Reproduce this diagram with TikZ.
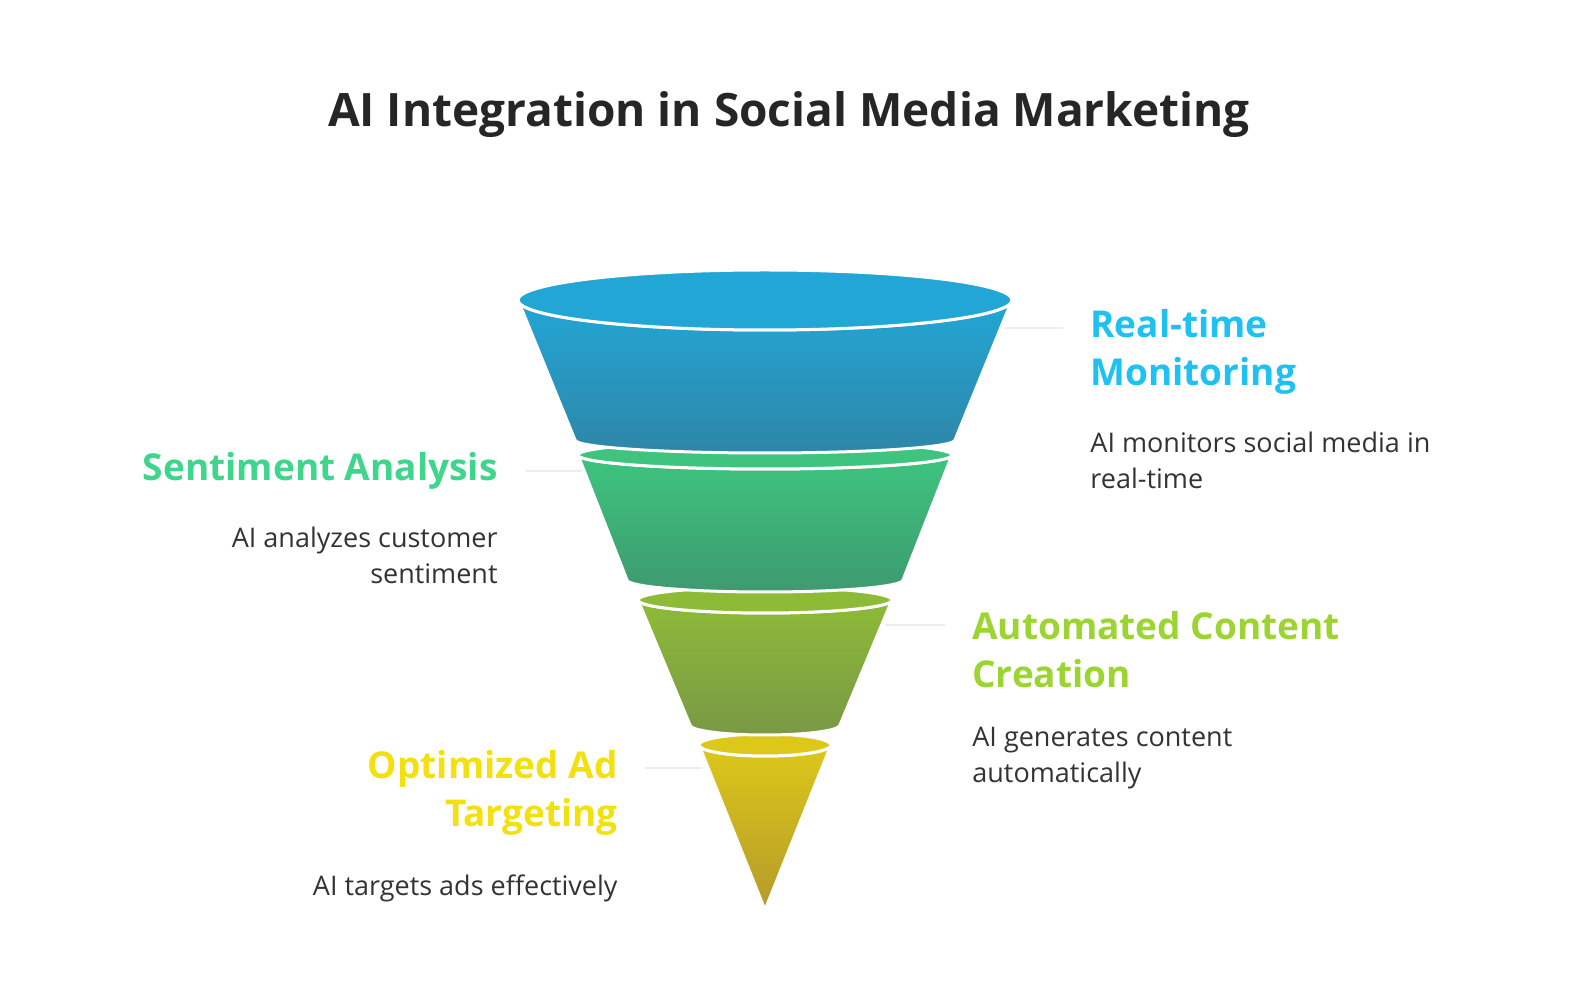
\documentclass[tikz,border=0pt]{standalone}
\usepackage{fontspec}
\setmainfont{Open Sans}
\begin{document}
\begin{tikzpicture}[x=0.5pt,y=0.5pt,
  band/.style={draw=white,line width=1.5pt},
  lidstyle/.style={draw=white,line width=1.5pt},
  conn/.style={draw=black!7,line width=1.2pt},
  head/.style={inner sep=0pt,font=\fontsize{18.5}{24}\selectfont\bfseries},
  body/.style={inner sep=0pt,font=\fontsize{13.5}{18}\selectfont,text=black!80}]
\useasboundingbox (0,0) rectangle (1581,997);
\definecolor{cA}{HTML}{22A6D5}\definecolor{cAb}{HTML}{2E86A8}
\definecolor{cB}{HTML}{3EC47E}\definecolor{cBb}{HTML}{3E9A70}
\definecolor{cC}{HTML}{8DBB38}\definecolor{cCb}{HTML}{7A9845}
\definecolor{cD}{HTML}{DDC81A}\definecolor{cDb}{HTML}{B59A2A}
\definecolor{tA}{HTML}{1FC1F0}\definecolor{tB}{HTML}{3DD68C}
\definecolor{tC}{HTML}{9CD531}\definecolor{tD}{HTML}{F2E10F}
% connectors
\coordinate (a1) at (1005,669); \coordinate (a2) at (1063,669);
\coordinate (b1) at (526,526); \coordinate (b2) at (582,526);
\coordinate (c1) at (885,372); \coordinate (c2) at (945,372);
\coordinate (d1) at (645,229); \coordinate (d2) at (702,229);
\draw[conn] (a1) -- (a2); \draw[conn] (b1) -- (b2);
\draw[conn] (c1) -- (c2); \draw[conn] (d1) -- (d2);
% band 4
\path[band,top color=cD,bottom color=cDb] (699,252) -- (765,87) -- (831,252) arc[start angle=0,end angle=-180,x radius=66,y radius=11] -- cycle;
\path[lidstyle,fill=cD] (765,252) ellipse[x radius=66,y radius=11];
% band 3
\path[band,top color=cC,bottom color=cCb] (638,397) -- (690,272) arc[start angle=180,end angle=360,x radius=75,y radius=10] -- (892,397) arc[start angle=0,end angle=-180,x radius=127,y radius=13] -- cycle;
\path[lidstyle,fill=cC] (765,397) ellipse[x radius=127,y radius=13];
% band 2
\path[band,top color=cB,bottom color=cBb] (578,542) -- (627,417) arc[start angle=180,end angle=360,x radius=138,y radius=12] -- (952,542) arc[start angle=0,end angle=-180,x radius=187,y radius=14] -- cycle;
\path[lidstyle,fill=cB] (765,542) ellipse[x radius=187,y radius=14];
% band 1
\path[band,top color=cA,bottom color=cAb] (518,697) -- (575,557) arc[start angle=180,end angle=360,x radius=190,y radius=13] -- (1012,697) arc[start angle=0,end angle=-180,x radius=247,y radius=30] -- cycle;
\path[lidstyle,fill=cA] (765,697) ellipse[x radius=247,y radius=30];
% title
\node[inner sep=0pt,font=\fontsize{23}{28}\selectfont\bfseries,text=black!85] (title) at (789,882) {AI Integration in Social Media Marketing};
% labels
\node[head,text=tA,anchor=west,align=left] (h1) at (1090,645) {Real-time\\Monitoring};
\node[body,anchor=west,align=left] (t1) at (1090,537) {AI monitors social media in\\real-time};
\node[head,text=tB,anchor=east,align=right] (h2) at (498,526) {Sentiment Analysis};
\node[body,anchor=east,align=right] (t2) at (498,442) {AI analyzes customer\\sentiment};
\node[head,text=tC,anchor=west,align=left] (h3) at (972,347) {Automated Content\\Creation};
\node[body,anchor=west,align=left] (t3) at (972,239) {AI generates content\\automatically};
\node[head,text=tD,anchor=east,align=right] (h4) at (618,204) {Optimized Ad\\Targeting};
\node[body,anchor=east,align=right] (t4) at (618,109) {AI targets ads effectively};
\end{tikzpicture}
\end{document}
